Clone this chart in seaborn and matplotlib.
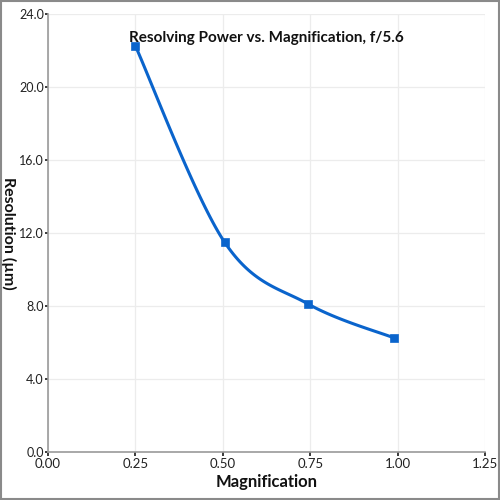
import numpy as np
import pandas as pd
import matplotlib
matplotlib.use('Agg')
import matplotlib.pyplot as plt
import seaborn as sns

# data
magnification = [0.25, 0.505, 0.745, 0.99]
resolution_um = [22.25, 11.5, 8.1, 6.25]

x_ticks = [0.00, 0.25, 0.50, 0.75, 1.00, 1.25]
y_ticks = [0.0, 4.0, 8.0, 12.0, 16.0, 20.0, 24.0]

title = "Resolving Power vs. Magnification, f/5.6"
x_label = "Magnification"
y_label = "Resolution (µm)"

line_color = '#0a64cc'


def smooth_line(xs, ys, steps=40):
    # Catmull-Rom style smoothing, like a spreadsheet "smoothed line"
    xs = np.asarray(xs, float)
    ys = np.asarray(ys, float)
    px = np.concatenate([[xs[0]], xs, [xs[-1]]])
    py = np.concatenate([[ys[0]], ys, [ys[-1]]])
    out_x, out_y = [], []
    t = np.linspace(0, 1, steps)
    for i in range(1, len(px) - 2):
        # bezier control points
        c1x = px[i] + (px[i + 1] - px[i - 1]) / 6
        c1y = py[i] + (py[i + 1] - py[i - 1]) / 6
        c2x = px[i + 1] - (px[i + 2] - px[i]) / 6
        c2y = py[i + 1] - (py[i + 2] - py[i]) / 6
        b0 = (1 - t) ** 3
        b1 = 3 * (1 - t) ** 2 * t
        b2 = 3 * (1 - t) * t ** 2
        b3 = t ** 3
        out_x.extend(b0 * px[i] + b1 * c1x + b2 * c2x + b3 * px[i + 1])
        out_y.extend(b0 * py[i] + b1 * c1y + b2 * c2y + b3 * py[i + 1])
    return np.array(out_x), np.array(out_y)


sns.set_theme(style='whitegrid')
plt.rcParams['font.family'] = ['Lato', 'DejaVu Sans']

fig = plt.figure(figsize=(5, 5), dpi=100)
ax = fig.add_axes([0.096, 0.096, 0.874, 0.876])

df = pd.DataFrame({'mag': magnification, 'res': resolution_um})
sx, sy = smooth_line(df['mag'], df['res'])
ax.plot(sx, sy, color=line_color, lw=2.2, zorder=3)
sns.scatterplot(data=df, x='mag', y='res', ax=ax, marker='s', s=36,
                color=line_color, edgecolor=line_color, zorder=4, legend=False)

ax.set_xlim(0, 1.25)
ax.set_ylim(0, 24)
ax.set_xticks(x_ticks)
ax.set_xticklabels([f"{v:.2f}" for v in x_ticks])
ax.set_yticks(y_ticks)
ax.set_yticklabels([f"{v:.1f}" for v in y_ticks])
ax.tick_params(axis='both', labelsize=9.5, colors='#222222', length=3, pad=1,
               direction='out', bottom=True, left=True)
ax.tick_params(axis='y', labelsize=9, length=2)
ax.grid(True, color='#ececec', lw=0.9)
for side in ['top', 'right']:
    ax.spines[side].set_visible(False)
for side in ['left', 'bottom']:
    ax.spines[side].set_color('#9a9a9a')
    ax.spines[side].set_linewidth(1.2)

ax.set_xlabel(x_label, fontsize=12, fontweight='bold', color='#111111', labelpad=3)
ax.set_ylabel(y_label, fontsize=11.5, fontweight='bold', color='#111111',
              rotation=-90, va='center', ha='center')
ax.yaxis.set_label_coords(-0.09, 0.5)
ax.text(0.5, 0.945, title, transform=ax.transAxes, ha='center', va='center',
        fontsize=11, fontweight='bold', color='#111111', zorder=5)

# grey frame round the whole picture
fig.patches.append(plt.Rectangle((0.002, 0.002), 0.996, 0.996, transform=fig.transFigure,
                                 fill=False, edgecolor='#8a8a8a', lw=1.5))

fig.savefig('out.png', dpi=100)
